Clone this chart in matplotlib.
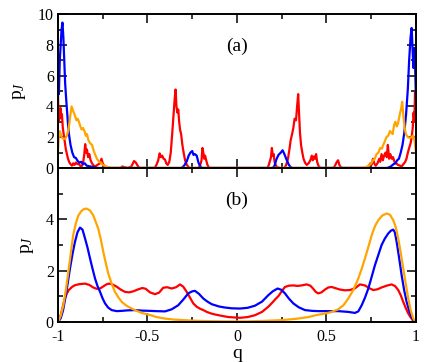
import numpy as np
import matplotlib
matplotlib.use('Agg')
import matplotlib.pyplot as plt
from matplotlib.ticker import MultipleLocator

# panel (a): raw distributions
qa_blue = [-1.0, -0.995, -0.99, -0.985, -0.98, -0.975, -0.97, -0.965, -0.96, -0.955, -0.95, -0.945,
           -0.94, -0.935, -0.93, -0.92, -0.91, -0.9, -0.89, -0.88, -0.87, -0.86, -0.85, -0.84, -0.82,
           -0.8, -0.78, -0.31, -0.295, -0.28, -0.27, -0.26, -0.25, -0.243, -0.235, -0.225, -0.215,
           -0.205, -0.195, 0.2, 0.21, 0.22, 0.232, 0.245, 0.255, 0.265, 0.275, 0.29, 0.3, 0.31,
           0.84, 0.86, 0.875, 0.885, 0.895, 0.905, 0.915, 0.925, 0.935, 0.945, 0.955, 0.962, 0.97,
           0.976, 0.982, 0.986, 0.99, 0.995, 1.0]
pa_blue = [6.0, 4.8, 7.0, 8.0, 9.0, 9.45, 8.5, 7.0, 5.5, 4.6, 3.8, 3.0,
           2.3, 1.9, 1.5, 1.0, 0.7, 0.65, 0.45, 0.35, 0.4, 0.25, 0.3, 0.15, 0.1,
           0.05, 0.0, 0.0, 0.15, 0.45, 0.8, 1.0, 1.1, 0.85, 0.9, 0.8, 0.35,
           0.1, 0.0, 0.0, 0.15, 0.55, 0.85, 1.0, 1.15, 0.9, 0.6, 0.2, 0.05, 0.0,
           0.0, 0.1, 0.25, 0.3, 0.5, 0.6, 1.0, 1.5, 2.3, 3.5, 5.2, 7.0, 8.5,
           9.1, 7.5, 6.5, 7.8, 6.8, 4.5]

qa_orange = [-1.0, -0.995, -0.99, -0.985, -0.98, -0.97, -0.96, -0.95, -0.94, -0.93, -0.924, -0.915,
             -0.905, -0.897, -0.89, -0.883, -0.875, -0.868, -0.86, -0.852, -0.845, -0.838, -0.83,
             -0.82, -0.81, -0.8, -0.79, -0.78, -0.77, -0.76, -0.75, -0.73, -0.71, -0.69,
             0.7, 0.72, 0.735, 0.75, 0.76, 0.77, 0.78, 0.79, 0.8, 0.81, 0.817, 0.825, 0.835, 0.845,
             0.855, 0.862, 0.87, 0.878, 0.885, 0.893, 0.9, 0.91, 0.918, 0.923, 0.93, 0.937, 0.944,
             0.955, 0.965, 0.975, 0.985, 0.993, 1.0]
pa_orange = [1.0, 2.2, 2.4, 2.2, 2.0, 1.9, 1.9, 2.1, 2.6, 3.5, 4.0, 3.7,
             3.4, 3.1, 3.2, 3.0, 2.7, 2.5, 2.6, 2.4, 2.1, 2.2, 1.8,
             1.6, 1.5, 1.1, 0.8, 0.55, 0.4, 0.35, 0.2, 0.1, 0.03, 0.0,
             0.0, 0.05, 0.15, 0.3, 0.5, 0.6, 0.9, 1.0, 1.3, 1.25, 1.5, 1.7, 2.0, 2.1,
             2.4, 2.3, 2.2, 2.8, 3.0, 2.7, 2.9, 3.5, 3.9, 4.3, 3.4, 2.6, 2.2,
             2.0, 1.95, 2.0, 2.1, 1.7, 1.0]

qa_red = [-1.0, -0.997, -0.993, -0.99, -0.986, -0.982, -0.978, -0.973, -0.968, -0.962, -0.956,
          -0.95, -0.944, -0.938, -0.93, -0.922, -0.915, -0.908, -0.9, -0.892, -0.885, -0.877,
          -0.868, -0.86, -0.853, -0.848, -0.843, -0.838, -0.832, -0.825, -0.818, -0.81, -0.8,
          -0.79, -0.78, -0.765, -0.757, -0.75, -0.74, -0.73, -0.65, -0.64, -0.63, -0.61, -0.59,
          -0.575, -0.565, -0.555, -0.545, -0.46, -0.45, -0.44, -0.432, -0.425, -0.418, -0.41,
          -0.402, -0.395, -0.387, -0.378, -0.37, -0.362, -0.355, -0.348, -0.343, -0.338, -0.333,
          -0.328, -0.323, -0.318, -0.312, -0.305, -0.298, -0.29, -0.28, -0.27, -0.26, -0.215,
          -0.205, -0.198, -0.193, -0.188, -0.183, -0.178, -0.172, -0.165, -0.155,
          0.17, 0.178, 0.185, 0.19, 0.195, 0.2, 0.205, 0.21, 0.218, 0.225, 0.24, 0.265, 0.275,
          0.285, 0.293, 0.3, 0.308, 0.315, 0.322, 0.33, 0.336, 0.342, 0.347, 0.352, 0.358, 0.365,
          0.372, 0.38, 0.39, 0.4, 0.41, 0.418, 0.424, 0.43, 0.436, 0.442, 0.448, 0.455, 0.465,
          0.54, 0.55, 0.558, 0.565, 0.572, 0.58, 0.59, 0.72, 0.735, 0.745, 0.752, 0.76, 0.767,
          0.775, 0.785, 0.795, 0.8, 0.808, 0.815, 0.822, 0.83, 0.837, 0.843, 0.85, 0.857, 0.865,
          0.872, 0.88, 0.89, 0.9, 0.91, 0.92, 0.93, 0.94, 0.947, 0.955, 0.962, 0.97, 0.976,
          0.982, 0.987, 0.991, 0.995, 1.0]
pa_red = [5.0, 3.0, 3.8, 3.2, 3.9, 3.3, 3.5, 2.6, 2.2, 1.7, 1.2,
          0.9, 0.6, 0.4, 0.25, 0.15, 0.3, 0.2, 0.35, 0.25, 0.3, 0.15,
          0.1, 0.3, 0.9, 1.55, 1.0, 1.2, 0.7, 0.9, 0.5, 0.3, 0.15,
          0.1, 0.2, 0.3, 0.6, 0.3, 0.1, 0.0, 0.0, 0.1, 0.05, 0.0, 0.1,
          0.45, 0.35, 0.15, 0.0, 0.0, 0.2, 0.5, 0.95, 0.7, 0.8, 0.6,
          0.55, 0.3, 0.2, 0.4, 1.0, 2.2, 3.4, 4.5, 5.1, 4.0, 3.6,
          3.8, 3.0, 2.5, 2.2, 1.5, 1.0, 0.5, 0.2, 0.05, 0.0, 0.0,
          0.2, 0.5, 1.3, 1.0, 0.6, 0.8, 0.5, 0.2, 0.0,
          0.0, 0.2, 0.5, 0.7, 1.3, 0.8, 0.9, 0.4, 0.15, 0.05, 0.0, 0.0, 0.2,
          0.6, 1.2, 1.8, 2.2, 2.6, 3.2, 3.1, 4.0, 4.8, 3.5, 2.3, 1.5, 1.0,
          0.6, 0.35, 0.2, 0.3, 0.5, 0.8, 0.5, 0.75, 0.6, 0.9, 0.4, 0.15, 0.0,
          0.0, 0.2, 0.4, 0.5, 0.2, 0.05, 0.0, 0.0, 0.1, 0.3, 0.2, 0.6, 0.3,
          0.15, 0.3, 0.6, 0.4, 0.9, 0.5, 0.8, 1.0, 0.7, 1.5, 0.6, 0.9, 0.6,
          0.7, 0.4, 0.3, 0.2, 0.15, 0.1, 0.25, 0.4, 0.6, 1.0, 1.3, 1.6, 2.0,
          2.6, 3.6, 3.0, 5.0, 3.0]

# panel (b): smoothed distributions
qb_orange = [-1.0, -0.985, -0.97, -0.955, -0.942, -0.928, -0.915, -0.9, -0.887, -0.87, -0.855,
             -0.84, -0.822, -0.803, -0.79, -0.775, -0.76, -0.747, -0.733, -0.719, -0.7, -0.682,
             -0.663, -0.644, -0.615, -0.588, -0.56, -0.532, -0.486, -0.45, -0.402, -0.35, -0.3,
             -0.25, -0.15, -0.05, 0.05, 0.15, 0.25, 0.33, 0.4, 0.44, 0.492, 0.52, 0.566, 0.595,
             0.622, 0.65, 0.678, 0.697, 0.715, 0.735, 0.753, 0.772, 0.79, 0.812, 0.836, 0.855,
             0.873, 0.887, 0.901, 0.915, 0.929, 0.943, 0.957, 0.971, 0.985, 1.0]
pb_orange = [0.0, 0.25, 0.66, 1.3, 1.96, 2.7, 3.39, 3.85, 4.14, 4.32, 4.4,
             4.42, 4.35, 4.16, 3.92, 3.64, 3.2, 2.74, 2.3, 1.89, 1.5, 1.18,
             0.97, 0.79, 0.63, 0.53, 0.44, 0.36, 0.28, 0.2, 0.14, 0.1, 0.08,
             0.06, 0.04, 0.03, 0.03, 0.05, 0.08, 0.13, 0.2, 0.27, 0.34, 0.38, 0.5, 0.66,
             0.92, 1.25, 1.7, 2.08, 2.48, 2.95, 3.39, 3.75, 3.97, 4.15, 4.23, 4.18,
             3.97, 3.7, 3.26, 2.7, 2.09, 1.5, 0.92, 0.45, 0.14, 0.0]

qb_blue = [-1.0, -0.985, -0.972, -0.96, -0.946, -0.933, -0.919, -0.905, -0.891, -0.877, -0.863,
           -0.849, -0.835, -0.821, -0.807, -0.793, -0.779, -0.765, -0.751, -0.737, -0.72, -0.7,
           -0.672, -0.644, -0.61, -0.57, -0.53, -0.486, -0.45, -0.402, -0.365, -0.328, -0.3,
           -0.272, -0.25, -0.235, -0.212, -0.188, -0.165, -0.141, -0.1, -0.067, -0.03, 0.017,
           0.06, 0.1, 0.14, 0.175, 0.2, 0.227, 0.248, 0.268, 0.29, 0.315, 0.345, 0.38, 0.42,
           0.454, 0.52, 0.566, 0.622, 0.659, 0.678, 0.697, 0.715, 0.734, 0.752, 0.771, 0.79,
           0.808, 0.826, 0.845, 0.86, 0.873, 0.882, 0.892, 0.906, 0.92, 0.934, 0.948, 0.962,
           0.976, 0.988, 1.0]
pb_blue = [0.0, 0.15, 0.45, 0.9, 1.5, 2.09, 2.65, 3.13, 3.5, 3.68, 3.6,
           3.26, 2.9, 2.48, 2.08, 1.7, 1.4, 1.18, 0.93, 0.73, 0.57, 0.47,
           0.43, 0.44, 0.46, 0.47, 0.45, 0.44, 0.43, 0.42, 0.5, 0.66, 0.88,
           1.12, 1.2, 1.22, 1.1, 0.92, 0.8, 0.7, 0.61, 0.57, 0.54, 0.53,
           0.56, 0.64, 0.8, 1.05, 1.2, 1.31, 1.26, 1.12, 0.92, 0.73, 0.58, 0.47, 0.44,
           0.43, 0.43, 0.43, 0.4, 0.36, 0.42, 0.66, 0.95, 1.31, 1.75, 2.22, 2.62,
           3.0, 3.25, 3.45, 3.56, 3.6, 3.5, 3.13, 2.5, 1.83, 1.25, 0.79, 0.45,
           0.2, 0.06, 0.0]

qb_red = [-1.0, -0.99, -0.98, -0.97, -0.96, -0.95, -0.94, -0.92, -0.905, -0.88, -0.849,
          -0.825, -0.803, -0.785, -0.765, -0.745, -0.727, -0.709, -0.69, -0.672, -0.65, -0.626,
          -0.603, -0.579, -0.555, -0.529, -0.51, -0.486, -0.458, -0.435, -0.412, -0.39, -0.365,
          -0.34, -0.318, -0.3, -0.281, -0.262, -0.244, -0.225, -0.205, -0.188, -0.169, -0.145,
          -0.123, -0.095, -0.049, 0.017, 0.06, 0.1, 0.14, 0.175, 0.2, 0.215, 0.231, 0.25,
          0.268, 0.29, 0.315, 0.338, 0.361, 0.389, 0.41, 0.426, 0.44, 0.454, 0.472, 0.492,
          0.51, 0.529, 0.552, 0.575, 0.603, 0.631, 0.66, 0.687, 0.715, 0.74, 0.762, 0.785,
          0.808, 0.836, 0.864, 0.884, 0.901, 0.915, 0.929, 0.943, 0.957, 0.972, 0.986, 1.0]
pb_red = [0.0, 0.15, 0.4, 0.7, 0.95, 1.12, 1.25, 1.38, 1.44, 1.48, 1.5,
          1.45, 1.35, 1.3, 1.31, 1.4, 1.48, 1.5, 1.45, 1.38, 1.27, 1.18,
          1.16, 1.2, 1.27, 1.33, 1.3, 1.16, 1.09, 1.15, 1.34, 1.36, 1.31,
          1.36, 1.47, 1.38, 1.18, 0.95, 0.73, 0.6, 0.52, 0.47, 0.4, 0.34,
          0.3, 0.26, 0.2, 0.17, 0.2, 0.27, 0.4, 0.6, 0.78, 0.9, 1.01, 1.2,
          1.37, 1.42, 1.43, 1.41, 1.43, 1.47, 1.42, 1.3, 1.18, 1.12, 1.16, 1.27,
          1.35, 1.37, 1.32, 1.27, 1.24, 1.25, 1.32, 1.47, 1.43, 1.32, 1.25, 1.28,
          1.35, 1.42, 1.47, 1.4, 1.25, 1.05, 0.79, 0.55, 0.34, 0.17, 0.05, 0.0]

plt.rcParams['font.family'] = ['Liberation Serif', 'DejaVu Serif']
plt.rcParams['mathtext.fontset'] = 'custom'
plt.rcParams['mathtext.rm'] = 'Liberation Serif'
plt.rcParams['mathtext.it'] = 'Liberation Serif:italic'
plt.rcParams['axes.unicode_minus'] = False

fig = plt.figure(figsize=(4.36, 3.62), dpi=100)
ax1 = fig.add_axes([0.133, 0.536, 0.821, 0.425])
ax2 = fig.add_axes([0.133, 0.110, 0.821, 0.426])

lw = 1.6
ax1.plot(qa_red, pa_red, color='#ff0000', lw=lw)
ax1.plot(qa_blue, pa_blue, color='#0000ff', lw=lw)
ax1.plot(qa_orange, pa_orange, color='#ffa500', lw=lw)
ax1.plot([-0.69, 0.7], [0, 0], color='#ffa500', lw=lw)

ax2.plot(qb_red, pb_red, color='#ff0000', lw=lw)
ax2.plot(qb_blue, pb_blue, color='#0000ff', lw=lw)
ax2.plot(qb_orange, pb_orange, color='#ffa500', lw=lw)

for ax in (ax1, ax2):
    ax.set_xlim(-1, 1)
    ax.xaxis.set_major_locator(MultipleLocator(0.5))
    ax.xaxis.set_minor_locator(MultipleLocator(0.25))
    ax.tick_params(which='both', direction='in', top=True, right=True, width=1.1, labelsize=11.5)
    ax.tick_params(which='major', length=6.5)
    ax.tick_params(which='minor', length=3.6)
    ax.tick_params(axis='y', pad=3)
    ax.tick_params(axis='x', pad=5)
    for s in ax.spines.values():
        s.set_linewidth(1.4)
    ax.set_ylabel('p$_J$', fontsize=14, labelpad=7)

ax1.set_ylim(0, 10)
ax1.yaxis.set_major_locator(MultipleLocator(2))
ax1.yaxis.set_minor_locator(MultipleLocator(1))
ax1.tick_params(axis='x', labelbottom=False)

ax2.set_ylim(0, 6)
ax2.set_yticks([0, 2, 4])
ax2.set_yticks([1, 3, 5], minor=True)
ax2.set_xticks([-1, -0.5, 0, 0.5, 1])
ax2.set_xticklabels(['-1', '-0.5', '0', '0.5', '1'])
ax2.set_xlabel('q', fontsize=14, labelpad=0)

ax1.text(0.0, 7.9, '(a)', fontsize=14, ha='center', va='center')
ax2.text(0.0, 4.75, '(b)', fontsize=14, ha='center', va='center')

fig.savefig('out.png', dpi=100)
